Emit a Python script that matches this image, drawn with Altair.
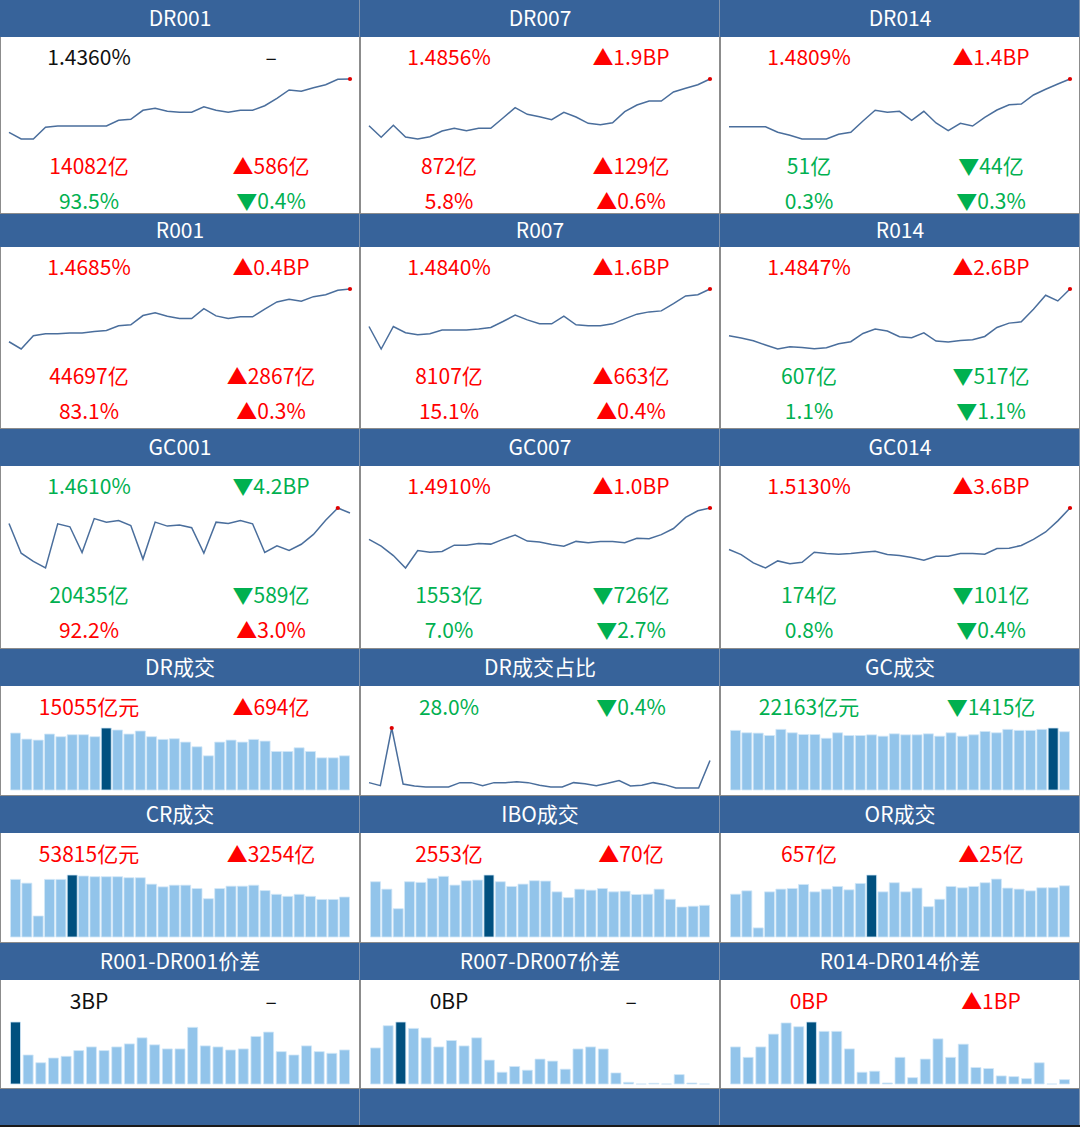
import altair as alt
import pandas as pd

FONT = "Noto Sans CJK SC"
HEADER_BG = "#37639A"
LINE_C = "#4A6E9C"
LIGHT = "#92C4EA"
DARK = "#00507F"
RED = "#FF0000"
GREEN = "#00B050"
BLACK = "#111111"
BORDER = "#8C8C8C"
W = 360

# ---------------- data ----------------
titles_r1 = ["DR001", "DR007", "DR014"]
titles_r2 = ["R001", "R007", "R014"]
titles_r3 = ["GC001", "GC007", "GC014"]
titles_r4 = ["DR成交", "DR成交占比", "GC成交"]
titles_r5 = ["CR成交", "IBO成交", "OR成交"]
titles_r6 = ["R001-DR001价差", "R007-DR007价差", "R014-DR014价差"]

dr001 = [1.3827, 1.3760, 1.3760, 1.3877, 1.3890, 1.3890, 1.3890, 1.3890, 1.3890, 1.3947,
         1.3957, 1.4047, 1.4067, 1.4037, 1.4027, 1.4027, 1.4083, 1.4047, 1.4027, 1.4047,
         1.4047, 1.4093, 1.4167, 1.4250, 1.4237, 1.4273, 1.4303, 1.4357, 1.4360]
dr007 = [1.4389, 1.4273, 1.4393, 1.4276, 1.4256, 1.4279, 1.4336, 1.4363, 1.4339, 1.4363,
         1.4363, 1.4466, 1.4569, 1.4503, 1.4479, 1.4449, 1.4523, 1.4476, 1.4413, 1.4399,
         1.4419, 1.4529, 1.4596, 1.4636, 1.4636, 1.4726, 1.4763, 1.4799, 1.4856]
dr014 = [1.4332, 1.4332, 1.4332, 1.4332, 1.4276, 1.4246, 1.4209, 1.4209, 1.4209, 1.4256,
         1.4276, 1.4389, 1.4496, 1.4476, 1.4486, 1.4396, 1.4486, 1.4369, 1.4292, 1.4366,
         1.4339, 1.4426, 1.4499, 1.4552, 1.4559, 1.4649, 1.4706, 1.4759, 1.4809]
r001 = [1.4155, 1.4082, 1.4215, 1.4235, 1.4235, 1.4242, 1.4242, 1.4258, 1.4268, 1.4315,
        1.4325, 1.4418, 1.4445, 1.4412, 1.4388, 1.4388, 1.4488, 1.4415, 1.4388, 1.4405,
        1.4405, 1.4482, 1.4555, 1.4582, 1.4562, 1.4608, 1.4628, 1.4672, 1.4685]
r007 = [1.4463, 1.4237, 1.4463, 1.4400, 1.4380, 1.4390, 1.4427, 1.4427, 1.4427, 1.4437,
        1.4453, 1.4513, 1.4577, 1.4530, 1.4490, 1.4490, 1.4567, 1.4480, 1.4470, 1.4470,
        1.4490, 1.4540, 1.4587, 1.4610, 1.4620, 1.4693, 1.4770, 1.4783, 1.4840]
r014 = [1.4377, 1.4354, 1.4327, 1.4284, 1.4244, 1.4267, 1.4260, 1.4247, 1.4257, 1.4297,
        1.4317, 1.4400, 1.4444, 1.4424, 1.4367, 1.4357, 1.4407, 1.4324, 1.4314, 1.4330,
        1.4337, 1.4370, 1.4460, 1.4504, 1.4517, 1.4644, 1.4784, 1.4727, 1.4847]
gc001 = [1.4503, 1.4203, 1.4120, 1.4053, 1.4500, 1.4470, 1.4210, 1.4553, 1.4517, 1.4533,
         1.4483, 1.4143, 1.4517, 1.4477, 1.4487, 1.4460, 1.4203, 1.4517, 1.4503, 1.4533,
         1.4500, 1.4210, 1.4277, 1.4230, 1.4293, 1.4393, 1.4537, 1.4660, 1.4610]
gc007 = [1.4600, 1.4533, 1.4440, 1.4317, 1.4490, 1.4473, 1.4480, 1.4543, 1.4543, 1.4560,
         1.4553, 1.4600, 1.4643, 1.4583, 1.4573, 1.4550, 1.4533, 1.4580, 1.4567, 1.4580,
         1.4580, 1.4567, 1.4610, 1.4607, 1.4647, 1.4707, 1.4817, 1.4883, 1.4910]
gc014 = [1.4720, 1.4670, 1.4587, 1.4537, 1.4607, 1.4580, 1.4593, 1.4693, 1.4680, 1.4673,
         1.4680, 1.4693, 1.4703, 1.4670, 1.4660, 1.4640, 1.4613, 1.4653, 1.4653, 1.4680,
         1.4680, 1.4673, 1.4730, 1.4733, 1.4760, 1.4820, 1.4893, 1.5003, 1.5130]
dr_share = [21.4, 20.5, 37.7, 21.0, 20.4, 20.1, 20.1, 20.1, 21.4, 21.4, 20.5, 21.4, 21.4, 21.7,
            21.4, 20.6, 20.1, 20.1, 21.4, 21.1, 20.5, 21.2, 22.0, 20.4, 20.6, 21.4, 20.8,
            19.8, 19.8, 19.8, 28.0]

dr_vol = [25090, 22430, 21990, 24650, 23470, 24350, 24350, 23470, 27310, 26420,
          24650, 25980, 23470, 22290, 22580, 21110, 19040, 15055, 21110, 21990,
          21110, 22290, 21550, 16970, 16970, 18600, 16970, 14170, 14170, 15055]
gc_vol = [22660, 21760, 21630, 20720, 23050, 21760, 21110, 21110, 19680, 21760,
          20720, 20720, 20980, 20460, 21370, 20980, 20980, 21370, 20460, 21760,
          20460, 20980, 22270, 21760, 23050, 22660, 22660, 23050, 23578, 22163]
cr_vol = [77530, 72510, 28280, 77530, 77530, 83460, 82090, 81180, 81180, 81180,
          79810, 79810, 71150, 67500, 69780, 69780, 65220, 51540, 65220, 68410,
          68410, 69780, 62480, 57460, 54730, 57460, 54730, 50560, 50560, 53815]
ibo_vol = [4454, 3857, 2281, 4454, 4400, 4726, 4889, 4183, 4536, 4590,
           4997, 4454, 4074, 4264, 4536, 4509, 3639, 3178, 3857, 3775,
           3911, 3639, 3694, 3422, 3449, 3857, 3042, 2417, 2483, 2553]
or_vol = [549, 592, 117, 579, 614, 622, 674, 579, 614, 648,
          605, 687, 795, 579, 696, 579, 627, 389, 484, 648,
          631, 648, 696, 743, 627, 614, 592, 631, 632, 657]

sp1 = [5.92, 2.77, 2.03, 2.48, 2.64, 3.19, 3.54, 3.19, 3.54, 3.83, 4.41, 3.74, 3.35, 3.35,
       5.41, 3.64, 3.54, 3.25, 3.35, 4.54, 4.96, 3.09, 2.77, 3.64, 3.09, 2.93, 3.25]
sp7 = [3.21, 5.19, 5.52, 4.95, 4.11, 3.30, 3.87, 3.39, 4.11, 2.13, 1.05, 1.56, 1.23, 2.22,
       2.04, 1.32, 3.12, 3.30, 3.12, 0.99, 0.15, -0.10, 0.06, -0.05, 0.84, 0.09, -0.16]
sp14 = [3.21, 2.31, 3.21, 4.32, 5.29, 4.96, 5.37, 4.56, 4.56, 3.04, 1.02, 1.11, 0.09, 2.31,
        0.55, 2.16, 3.91, 2.31, 3.45, 1.43, 1.34, 0.70, 0.64, 0.47, 1.84, -0.62, 0.38]

# label rows: (left text, left color, right text, right color)
lab_r1 = [
    [("1.4360%", BLACK, "–", BLACK), ("14082亿", RED, "▲586亿", RED), ("93.5%", GREEN, "▼0.4%", GREEN)],
    [("1.4856%", RED, "▲1.9BP", RED), ("872亿", RED, "▲129亿", RED), ("5.8%", RED, "▲0.6%", RED)],
    [("1.4809%", RED, "▲1.4BP", RED), ("51亿", GREEN, "▼44亿", GREEN), ("0.3%", GREEN, "▼0.3%", GREEN)],
]
lab_r2 = [
    [("1.4685%", RED, "▲0.4BP", RED), ("44697亿", RED, "▲2867亿", RED), ("83.1%", RED, "▲0.3%", RED)],
    [("1.4840%", RED, "▲1.6BP", RED), ("8107亿", RED, "▲663亿", RED), ("15.1%", RED, "▲0.4%", RED)],
    [("1.4847%", RED, "▲2.6BP", RED), ("607亿", GREEN, "▼517亿", GREEN), ("1.1%", GREEN, "▼1.1%", GREEN)],
]
lab_r3 = [
    [("1.4610%", GREEN, "▼4.2BP", GREEN), ("20435亿", GREEN, "▼589亿", GREEN), ("92.2%", RED, "▲3.0%", RED)],
    [("1.4910%", RED, "▲1.0BP", RED), ("1553亿", GREEN, "▼726亿", GREEN), ("7.0%", GREEN, "▼2.7%", GREEN)],
    [("1.5130%", RED, "▲3.6BP", RED), ("174亿", GREEN, "▼101亿", GREEN), ("0.8%", GREEN, "▼0.4%", GREEN)],
]
lab_r4 = [[("15055亿元", RED, "▲694亿", RED)], [("28.0%", GREEN, "▼0.4%", GREEN)],
          [("22163亿元", GREEN, "▼1415亿", GREEN)]]
lab_r5 = [[("53815亿元", RED, "▲3254亿", RED)], [("2553亿", RED, "▲70亿", RED)],
          [("657亿", RED, "▲25亿", RED)]]
lab_r6 = [[("3BP", BLACK, "–", BLACK)], [("0BP", BLACK, "–", BLACK)],
          [("0BP", RED, "▲1BP", RED)]]


# ---------------- builders ----------------
def box(x1, x2, y1, y2, color):
    return alt.Chart(pd.DataFrame({"t": [""]})).mark_rect(color=color, strokeWidth=0).encode(
        x=alt.value(x1), x2=alt.value(x2), y=alt.value(y1), y2=alt.value(y2))


def header(title, h):
    txt = alt.Chart(pd.DataFrame({"t": [title]})).mark_text(
        color="white", font=FONT, fontSize=21, align="center", baseline="middle"
    ).encode(text="t:N", x=alt.value(W / 2), y=alt.value(h / 2 + 1))
    return alt.layer(box(0, W, 0, h, HEADER_BG), box(W - 1, W, 0, h, "#7F93AE"),
                     txt).properties(width=W, height=h)


def blank_bar(h):
    return alt.layer(box(0, W, 0, h, HEADER_BG), box(W - 1, W, 0, h, "#7F93AE"),
                     box(0, W, h - 2, h, "#1A1A1A")).properties(width=W, height=h)


def frame(h):
    return [box(0, 1, 0, h, BORDER), box(W - 1, W, 0, h, BORDER),
            box(0, W, h - 1, h, BORDER)]


def label_layers(rows, ys):
    layers = []
    for (lt, lc, rt, rc), y in zip(rows, ys):
        for t, c, x in ((lt, lc, 89), (rt, rc, 271)):
            layers.append(
                alt.Chart(pd.DataFrame({"t": [t]})).mark_text(
                    font=FONT, fontSize=21, color=c, align="center", baseline="middle"
                ).encode(text="t:N", x=alt.value(x), y=alt.value(y)))
    return layers


def line_layers(vals, top, bottom):
    df = pd.DataFrame({"i": list(range(len(vals))), "v": vals})
    xs = alt.X("i:Q", axis=None,
               scale=alt.Scale(domain=[0, len(vals) - 1], range=[9, 350], nice=False, zero=False))
    ys = alt.Y("v:Q", axis=None,
               scale=alt.Scale(domain=[min(vals), max(vals)], range=[bottom, top],
                               nice=False, zero=False))
    line = alt.Chart(df).mark_line(color=LINE_C, strokeWidth=1.5).encode(x=xs, y=ys)
    pt = alt.Chart(df).transform_joinaggregate(mx="max(v)").transform_filter(
        "datum.v == datum.mx").mark_point(filled=True, color="#E00000", size=18,
                                          opacity=1).encode(x=xs, y=ys)
    return [line, pt]


def bar_layers(vals):
    n = len(vals)
    df = pd.DataFrame({"i": list(range(n)), "v": vals})
    bars = alt.Chart(df).transform_joinaggregate(mx="max(v)").mark_bar(
        width=10, stroke="#D2E7F7", strokeWidth=0.8
    ).encode(
        x=alt.X("i:Q", axis=None,
                scale=alt.Scale(domain=[0, n - 1], range=[10.5, 349.5], nice=False, zero=False)),
        y=alt.Y("v:Q", axis=None,
                scale=alt.Scale(domain=[0, max(vals)], range=[104, 42], nice=False, clamp=True)),
        color=alt.condition("datum.v == datum.mx", alt.value(DARK), alt.value(LIGHT)),
    )
    return [bars]


def line_panel(vals, labs, h):
    layers = frame(h) + line_layers(vals, 42, 102) + label_layers(labs, [22, 131, 166])
    return alt.layer(*layers).properties(width=W, height=h)


def bar_panel(vals, labs, h):
    layers = frame(h) + bar_layers(vals) + label_layers(labs, [23])
    return alt.layer(*layers).properties(width=W, height=h)


def share_panel(vals, labs, h):
    layers = frame(h) + line_layers(vals, 42, 102) + label_layers(labs, [23])
    return alt.layer(*layers).properties(width=W, height=h)


def hrow(charts):
    return alt.hconcat(*charts, spacing=0)


rows = [
    hrow([header(t, 37) for t in titles_r1]),
    hrow([line_panel(v, l, 177) for v, l in zip([dr001, dr007, dr014], lab_r1)]),
    hrow([header(t, 33) for t in titles_r2]),
    hrow([line_panel(v, l, 182) for v, l in zip([r001, r007, r014], lab_r2)]),
    hrow([header(t, 37) for t in titles_r3]),
    hrow([line_panel(v, l, 183) for v, l in zip([gc001, gc007, gc014], lab_r3)]),
    hrow([header(t, 37) for t in titles_r4]),
    hrow([bar_panel(dr_vol, lab_r4[0], 110), share_panel(dr_share, lab_r4[1], 110),
          bar_panel(gc_vol, lab_r4[2], 110)]),
    hrow([header(t, 37) for t in titles_r5]),
    hrow([bar_panel(v, l, 110) for v, l in zip([cr_vol, ibo_vol, or_vol], lab_r5)]),
    hrow([header(t, 37) for t in titles_r6]),
    hrow([bar_panel(v, l, 109) for v, l in zip([sp1, sp7, sp14], lab_r6)]),
    hrow([blank_bar(38) for _ in range(3)]),
]

chart = alt.vconcat(*rows, spacing=0).properties(
    padding=0, background="white"
).configure(padding=0).configure_view(strokeWidth=0, stroke=None).configure_concat(spacing=0)

chart.save("out.html", embed_options={"renderer": "svg", "actions": False})
